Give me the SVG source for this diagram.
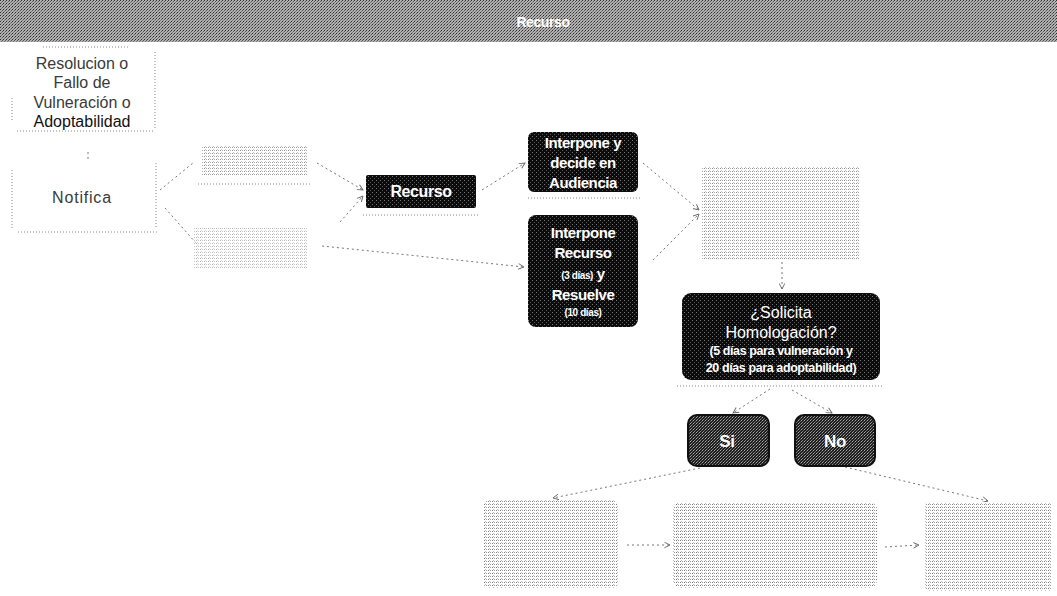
<svg xmlns="http://www.w3.org/2000/svg" width="1057" height="596" viewBox="0 0 1057 596">
<defs>
<style>
.lbl{font-family:"Liberation Sans",Arial,sans-serif;fill:#3a3a3a;font-size:16px;text-anchor:middle}
.wt{font-family:"Liberation Sans",Arial,sans-serif;fill:#fff;font-weight:bold;text-anchor:middle;font-size:15px;letter-spacing:-0.4px}
.wr{font-family:"Liberation Sans",Arial,sans-serif;fill:#fff;text-anchor:middle;font-size:16px}
.bord{fill:none;stroke:#888;stroke-width:1;stroke-dasharray:1 2}
.con{fill:none;stroke:#777;stroke-width:1;stroke-dasharray:2 3}
.dark{fill:url(#dk)}
.mid{fill:url(#md)}
.light{fill:url(#lt)}
</style>
<pattern id="dk" width="4" height="4" patternUnits="userSpaceOnUse">
<rect width="4" height="4" fill="#0c0c0c"/>
<rect x="0" y="0" width="1" height="1" fill="#777"/>
<rect x="2" y="2" width="1" height="1" fill="#555"/>
</pattern>
<pattern id="md" width="3" height="3" patternUnits="userSpaceOnUse">
<rect width="3" height="3" fill="#1e1e1e"/>
<rect x="0" y="0" width="1" height="1" fill="#aaa"/>
<rect x="1" y="2" width="1" height="1" fill="#888"/>
<rect x="2" y="1" width="1" height="1" fill="#666"/>
</pattern>
<pattern id="lt" width="4" height="3" patternUnits="userSpaceOnUse">
<rect width="4" height="3" fill="#fff"/>
<rect x="0" y="0" width="1" height="1" fill="#777"/>
<rect x="2" y="0" width="1" height="1" fill="#999"/>
<rect x="1" y="2" width="1" height="1" fill="#bbb"/>
</pattern>
<pattern id="hd" width="3" height="3" patternUnits="userSpaceOnUse">
<rect width="3" height="3" fill="#b0b0b0"/>
<rect x="0" y="0" width="1" height="1" fill="#2c2c2c"/>
<rect x="2" y="1" width="1" height="1" fill="#555"/>
<rect x="1" y="2" width="1" height="1" fill="#777"/>
</pattern>
<marker id="ah" viewBox="0 0 10 10" refX="9" refY="5" markerWidth="7" markerHeight="7" orient="auto-start-reverse">
<path d="M1,1 L9,5 L1,9" fill="none" stroke="#666" stroke-width="1.3"/>
</marker>
</defs>
<rect width="1057" height="596" fill="#fff"/>

<g id="header">
<rect x="0" y="0" width="1057" height="42" fill="url(#hd)"/>
<text x="543" y="27" class="wt" style="font-size:14px">Recurso</text>
</g>

<g id="connectors">
<line class="con" x1="88" y1="152" x2="88" y2="160"/>
<line class="con" x1="160" y1="190" x2="193" y2="163"/>
<line class="con" x1="317" y1="163" x2="363" y2="190" marker-end="url(#ah)"/>
<line class="con" x1="165" y1="208" x2="196" y2="243"/>
<line class="con" x1="340" y1="222" x2="363" y2="196" marker-end="url(#ah)"/>
<line class="con" x1="322" y1="246" x2="524" y2="267" marker-end="url(#ah)"/>
<line class="con" x1="482" y1="190" x2="525" y2="163" marker-end="url(#ah)"/>
<line class="con" x1="643" y1="163" x2="699" y2="210" marker-end="url(#ah)"/>
<line class="con" x1="653" y1="260" x2="699" y2="214" marker-end="url(#ah)"/>
<line class="con" x1="782" y1="262" x2="782" y2="289" marker-end="url(#ah)"/>
<line class="con" x1="770" y1="389" x2="733" y2="413" marker-end="url(#ah)"/>
<line class="con" x1="792" y1="390" x2="832" y2="413" marker-end="url(#ah)"/>
<line class="con" x1="700" y1="468" x2="553" y2="498" marker-end="url(#ah)"/>
<line class="con" x1="845" y1="467" x2="988" y2="501" marker-end="url(#ah)"/>
<line class="con" x1="627" y1="545" x2="670" y2="545" marker-end="url(#ah)"/>
<line class="con" x1="885" y1="547" x2="919" y2="545" marker-end="url(#ah)"/>
</g>

<g id="n-resolucion">
<line class="bord" x1="43" y1="47" x2="130" y2="47"/>
<line class="bord" x1="155" y1="52" x2="155" y2="128"/>
<line class="bord" x1="12" y1="98" x2="12" y2="122"/>
<line class="bord" x1="17" y1="131" x2="155" y2="131"/>
<text class="lbl" x="82" y="69">Resolucion o</text>
<text class="lbl" x="82" y="88">Fallo de</text>
<text class="lbl" x="82" y="108">Vulneración o</text>
<text class="lbl" x="82" y="127" style="fill:#111">Adoptabilidad</text>
</g>

<g id="n-notifica">
<line class="bord" x1="12" y1="170" x2="12" y2="230"/>
<line class="bord" x1="156" y1="163" x2="156" y2="228"/>
<line class="bord" x1="18" y1="232" x2="157" y2="232"/>
<text class="lbl" x="82" y="203" style="letter-spacing:0.8px">Notifica</text>
</g>

<g id="e-label-a">
<rect x="202" y="146" width="106" height="30" class="light" opacity="0.8"/>
<line class="bord" x1="198" y1="184" x2="312" y2="184"/>
</g>

<g id="e-label-b">
<rect x="194" y="228" width="114" height="40" class="light" opacity="0.55"/>
</g>

<g id="n-recurso">
<rect x="366" y="175" width="110" height="33" rx="2" class="dark"/>
<text class="wt" x="421" y="197" style="font-size:16px">Recurso</text>
<line class="bord" x1="363" y1="215" x2="480" y2="215"/>
</g>

<g id="n-audiencia">
<rect x="528" y="132" width="110" height="60" rx="6" class="dark"/>
<text class="wt" x="583" y="148">Interpone y</text>
<text class="wt" x="583" y="168">decide en</text>
<text class="wt" x="583" y="188">Audiencia</text>
<line class="bord" x1="528" y1="198" x2="640" y2="198"/>
</g>

<g id="n-interpone">
<rect x="528" y="215" width="110" height="112" rx="8" class="dark"/>
<text class="wt" x="583" y="238">Interpone</text>
<text class="wt" x="583" y="258">Recurso</text>
<text class="wt" x="583" y="279"><tspan style="font-size:10px">(3 días)</tspan> y</text>
<text class="wt" x="583" y="300">Resuelve</text>
<text class="wt" x="583" y="316" style="font-size:10px">(10 días)</text>
</g>

<g id="n-big">
<rect x="702" y="167" width="158" height="93" class="light" opacity="0.85"/>
</g>

<g id="n-solicita">
<rect x="682" y="293" width="198" height="87" rx="9" class="dark"/>
<text class="wr" x="781" y="318">¿Solicita</text>
<text class="wr" x="781" y="338">Homologación?</text>
<text class="wt" x="781" y="355" style="font-size:12.5px">(5 días para vulneración y</text>
<text class="wt" x="781" y="372" style="font-size:12.5px">20 días para adoptabilidad)</text>
<line class="bord" x1="677" y1="386" x2="883" y2="386"/>
</g>

<g id="n-si">
<rect x="688" y="415" width="81" height="51" rx="9" class="mid" stroke="#111" stroke-width="2"/>
<text class="wt" x="727" y="447" style="font-size:17px">Si</text>
</g>

<g id="n-no">
<rect x="795" y="415" width="80" height="51" rx="9" class="mid" stroke="#111" stroke-width="2"/>
<text class="wt" x="835" y="447" style="font-size:17px">No</text>
</g>

<g id="n-bottom-left">
<rect x="483" y="500" width="135" height="88" rx="6" class="light" opacity="0.95"/>
</g>
<g id="n-bottom-mid">
<rect x="673" y="502" width="204" height="86" rx="8" class="light"/>
</g>
<g id="n-bottom-right">
<rect x="925" y="502" width="127" height="89" rx="4" class="light" opacity="0.95"/>
</g>
</svg>
